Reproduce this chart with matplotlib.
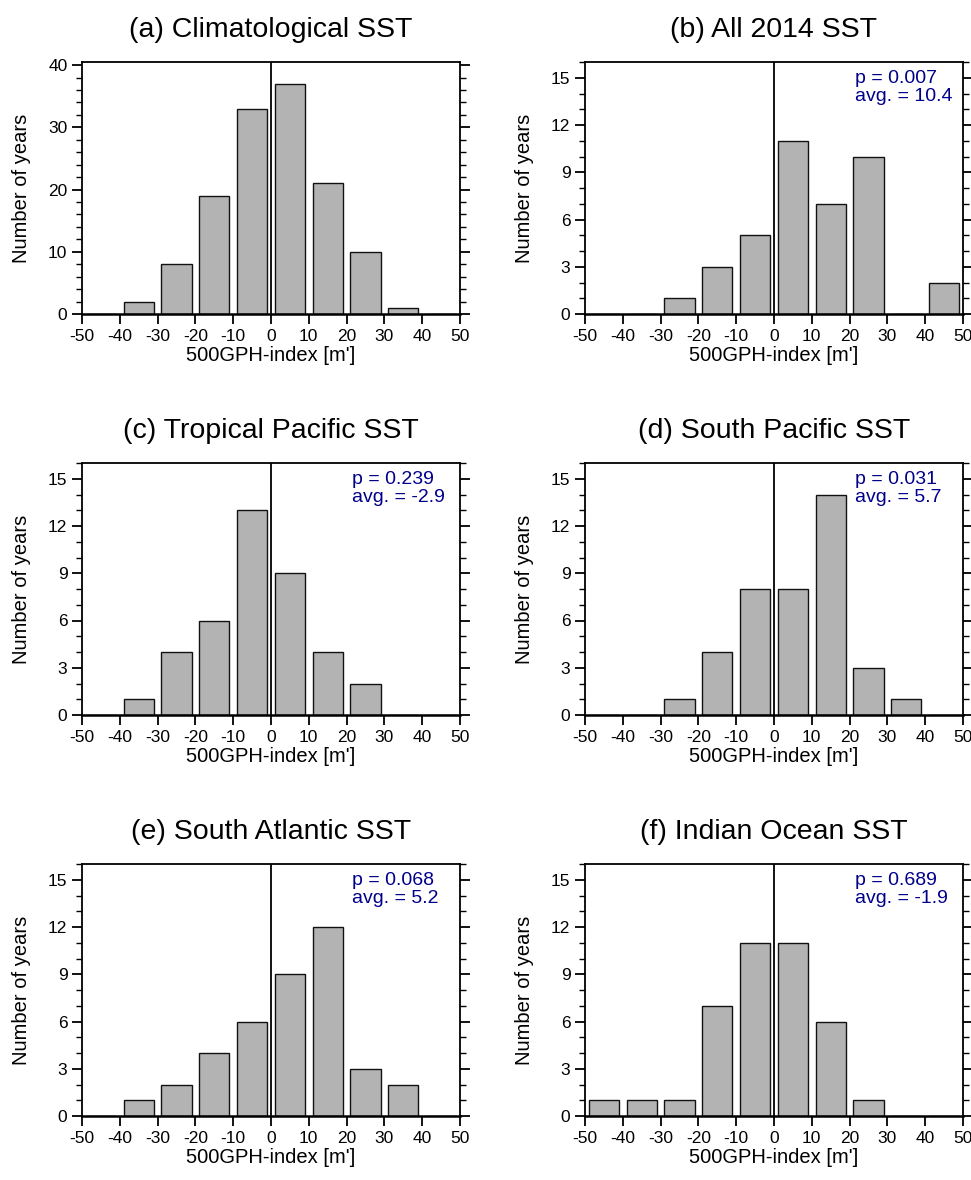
import numpy as np
import matplotlib.pyplot as plt

plt.rcParams['font.family'] = ['Liberation Sans', 'DejaVu Sans']
plt.rcParams['axes.unicode_minus'] = False

# bin centres of the 500GPH-index histogram
bins = [-45, -35, -25, -15, -5, 5, 15, 25, 35, 45]

clim = [0, 2, 8, 19, 33, 37, 21, 10, 1, 0]
all2014 = [0, 0, 1, 3, 5, 11, 7, 10, 0, 2]
trop_pac = [0, 1, 4, 6, 13, 9, 4, 2, 0, 0]
south_pac = [0, 0, 1, 4, 8, 8, 14, 3, 1, 0]
south_atl = [0, 1, 2, 4, 6, 9, 12, 3, 2, 0]
indian = [1, 1, 1, 7, 11, 11, 6, 1, 0, 0]

titles = ["(a) Climatological SST", "(b) All 2014 SST", "(c) Tropical Pacific SST",
          "(d) South Pacific SST", "(e) South Atlantic SST", "(f) Indian Ocean SST"]
p_values = [None, "0.007", "0.239", "0.031", "0.068", "0.689"]
averages = [None, "10.4", "-2.9", "5.7", "5.2", "-1.9"]
counts = [clim, all2014, trop_pac, south_pac, south_atl, indian]

fig = plt.figure(figsize=(9.71, 11.8), dpi=100)

lefts = [82 / 971, 585 / 971]
bottoms = [(1180 - 314) / 1180, (1180 - 715) / 1180, (1180 - 1116) / 1180]
w = 378 / 971
h = 252 / 1180

for i in range(6):
    ax = fig.add_axes([lefts[i % 2], bottoms[i // 2], w, h])
    ax.bar(bins, counts[i], width=8, color='#b3b3b3', edgecolor='#111111', linewidth=1.0, zorder=2)
    ax.axvline(0, color='black', linewidth=1.3, zorder=3)
    ax.set_xlim(-50, 50)
    ax.set_xticks(range(-50, 51, 10))
    if i == 0:
        ax.set_ylim(0, 40.5)
        ax.set_yticks(range(0, 41, 10))
        ax.set_yticks(range(0, 41, 2), minor=True)
    else:
        ax.set_ylim(0, 16)
        ax.set_yticks(range(0, 16, 3))
        ax.set_yticks(range(0, 17, 1), minor=True)
        ax.text(0.713, 0.97, "p = " + p_values[i] + "\navg. = " + averages[i],
                transform=ax.transAxes, ha='left', va='top', color='#00008b',
                fontsize=14, linespacing=1.1)
    ax.tick_params(axis='both', which='major', direction='out', length=7, width=1.3,
                   labelsize=12.5, top=False, right=True, left=True)
    ax.tick_params(axis='y', which='minor', direction='out', length=4, width=1.0,
                   right=True, left=True)
    ax.tick_params(axis='x', which='minor', bottom=False, top=False)
    for s in ax.spines.values():
        s.set_linewidth(1.3)
    ax.spines['bottom'].set_linewidth(1.8)
    ax.set_title(titles[i], fontsize=20.5, pad=18)
    ax.set_xlabel("500GPH-index [m']", fontsize=14.5, labelpad=1.5)
    ax.set_ylabel("Number of years", fontsize=14.5, labelpad=12)

plt.savefig("out.png", dpi=100)
